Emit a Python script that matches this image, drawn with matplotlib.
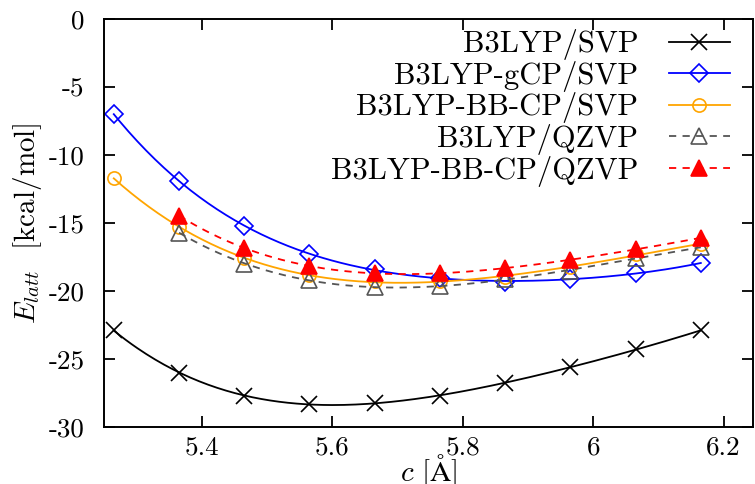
import numpy as np
import matplotlib
matplotlib.use("Agg")
import matplotlib.pyplot as plt
from matplotlib.legend_handler import HandlerTuple

# ── DATA ─────────────────────────────────────────────
c_svp  = [5.265, 5.365, 5.465, 5.565, 5.665, 5.765, 5.865, 5.965, 6.065, 6.165]
c_qzvp = [5.365, 5.465, 5.565, 5.665, 5.765, 5.865, 5.965, 6.065, 6.165]

e_b3lyp_svp     = [-22.9, -26.0, -27.7, -28.3, -28.25, -27.7, -26.75, -25.6, -24.3, -22.9]
e_gcp_svp       = [-7.0, -11.9, -15.2, -17.3, -18.4, -19.05, -19.35, -19.1, -18.7, -17.95]
e_bbcp_svp      = [-11.7, -15.3, -17.6, -18.8, -19.3, -19.3, -19.0, -18.2, -17.3, -16.55]
e_b3lyp_qzvp    = [-15.7, -18.0, -19.2, -19.7, -19.65, -19.15, -18.5, -17.55, -16.8]
e_bbcp_qzvp     = [-14.45, -16.85, -18.15, -18.7, -18.7, -18.3, -17.75, -16.9, -16.1]

labels = ["B3LYP/SVP", "B3LYP-gCP/SVP", "B3LYP-BB-CP/SVP",
          "B3LYP/QZVP", "B3LYP-BB-CP/QZVP"]

x_ticks = [5.4, 5.6, 5.8, 6.0, 6.2]
x_tick_labels = ["5.4", "5.6", "5.8", "6", "6.2"]
y_ticks = [0, -5, -10, -15, -20, -25, -30]
y_tick_labels = ["0", "-5", "-10", "-15", "-20", "-25", "-30"]

# ── STYLE ────────────────────────────────────────────
plt.rcParams["font.family"] = ["cmr10", "DejaVu Serif"]
plt.rcParams["mathtext.fontset"] = "cm"
plt.rcParams["axes.unicode_minus"] = False
plt.rcParams["axes.formatter.use_mathtext"] = True

series = [
    (c_svp,  e_b3lyp_svp,  dict(color="black",   ls="-",  marker="x", ms=11, mfc="none")),
    (c_svp,  e_gcp_svp,    dict(color="#0000ff", ls="-",  marker="D", ms=9.5, mfc="none")),
    (c_svp,  e_bbcp_svp,   dict(color="#ffa500", ls="-",  marker="o", ms=9.5, mfc="none")),
    (c_qzvp, e_b3lyp_qzvp, dict(color="#555555", ls="--", marker="^", ms=11, mfc="none")),
    (c_qzvp, e_bbcp_qzvp,  dict(color="#ff0000", ls="--", marker="^", ms=11, mfc="#ff0000")),
]

fig = plt.figure(figsize=(7.55, 4.84), dpi=100)
ax = fig.add_axes([104 / 755, 1 - 427 / 484, 649 / 755, 408 / 484])

handles = []
for (xs, ys, st), lab in zip(series, labels):
    xs = np.asarray(xs)
    ys = np.asarray(ys)
    # smooth fit curve through the points (like the original's fitted lines)
    coef = np.polyfit(xs, ys, 4)
    xf = np.linspace(xs.min(), xs.max(), 200)
    curve, = ax.plot(xf, np.polyval(coef, xf), color=st["color"], ls=st["ls"],
                     lw=1.3, dashes=(4, 3.5) if st["ls"] == "--" else (None, None))
    pts, = ax.plot(xs, ys, ls="none", marker=st["marker"], ms=st["ms"],
                   mec=st["color"], mfc=st["mfc"], mew=1.2)
    handles.append((curve, pts))

ax.set_xlim(5.25, 6.245)
ax.set_ylim(-30, 0)
ax.set_xticks(x_ticks)
ax.set_xticklabels(x_tick_labels)
ax.set_yticks(y_ticks)
ax.set_yticklabels(y_tick_labels)
ax.tick_params(direction="in", length=8, width=1.3, top=True, right=True,
               labelsize=19.5)
ax.tick_params(axis="y", pad=14)
ax.tick_params(axis="x", pad=6)
for sp in ax.spines.values():
    sp.set_linewidth(1.4)

ax.set_xlabel(r"$c\,\,[\mathrm{\AA}]$", fontsize=21, labelpad=-5)
ax.set_ylabel(r"$E_{latt}$  [kcal/mol]", fontsize=21, labelpad=3)

leg = ax.legend(handles, labels, handler_map={tuple: HandlerTuple(ndivide=1)},
                loc="upper right", bbox_to_anchor=((730 - 104) / 649, 0.975),
                frameon=False, markerfirst=False, numpoints=1, fontsize=22,
                handlelength=2.0, handletextpad=1.0, labelspacing=0.02,
                borderpad=0, borderaxespad=0)

plt.savefig("out.png", dpi=100)
